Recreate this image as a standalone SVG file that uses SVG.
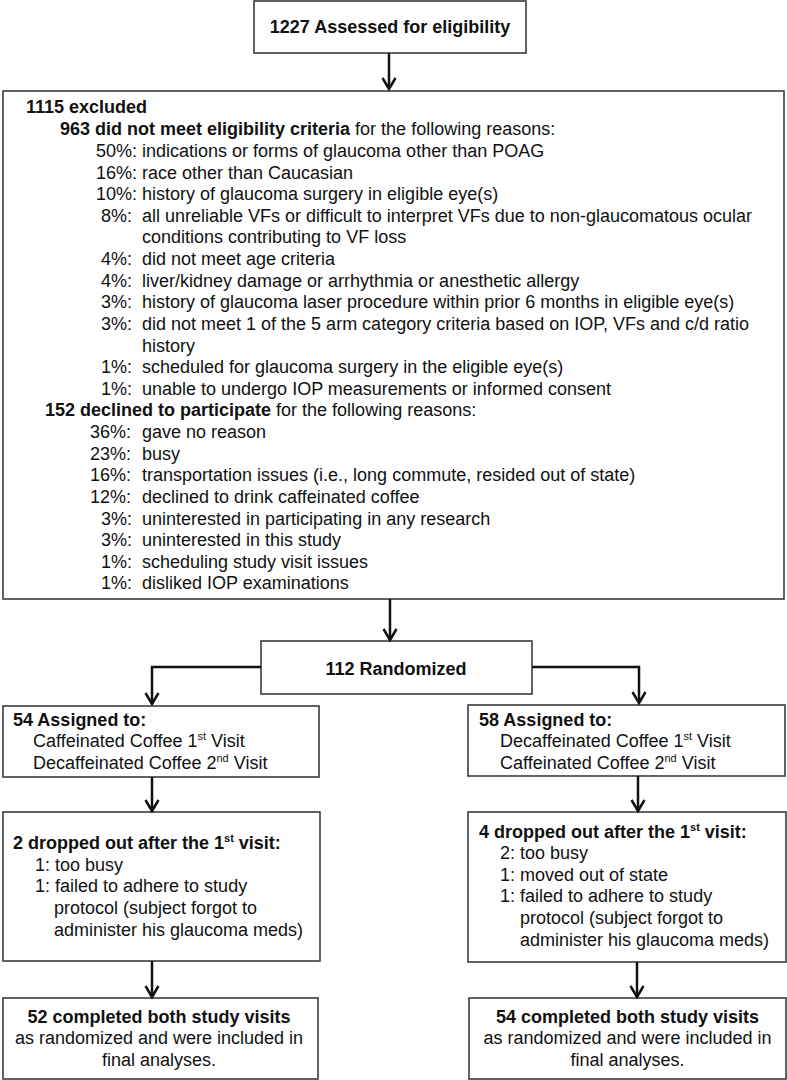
<svg xmlns="http://www.w3.org/2000/svg" width="787" height="1080" viewBox="0 0 787 1080">
<defs>
<style>
.box{fill:#fff;stroke:#3c3c3c;stroke-width:1.6}
text{font-family:"Liberation Sans",Arial,Helvetica,sans-serif;font-size:18px;fill:#111}
.b{font-weight:bold}
.c{text-anchor:middle}
.sup{font-size:11px}
.conn{fill:none;stroke:#111;stroke-width:2.5}
</style>
<marker id="arr" viewBox="-13 -9 15 18" refX="0" refY="0" markerWidth="15" markerHeight="18" markerUnits="userSpaceOnUse" orient="auto" overflow="visible">
<path d="M-11,-6.5 L0,0 L-11,6.5" fill="none" stroke="#111" stroke-width="2.5"/>
</marker>
</defs>
<rect width="787" height="1080" fill="#fff"/>

<g id="assessed">
<rect class="box" x="254" y="1" width="272" height="52"/>
<text class="b c" x="390" y="33">1227 Assessed for eligibility</text>
</g>

<g id="excluded">
<rect class="box" x="3" y="91" width="781" height="508"/>
<text class="b" x="26" y="113">1115 excluded</text>
<text x="60" y="135"><tspan class="b">963 did not meet eligibility criteria</tspan> for the following reasons:</text>
<text x="96" y="157">50%:</text><text x="142" y="157">indications or forms of glaucoma other than POAG</text>
<text x="96" y="179">16%:</text><text x="142" y="179">race other than Caucasian</text>
<text x="96" y="200">10%:</text><text x="142" y="200">history of glaucoma surgery in eligible eye(s)</text>
<text x="101" y="222">8%:</text><text x="142" y="222">all unreliable VFs or difficult to interpret VFs due to non-glaucomatous ocular</text>
<text x="142" y="243">conditions contributing to VF loss</text>
<text x="101" y="265">4%:</text><text x="142" y="265">did not meet age criteria</text>
<text x="101" y="287">4%:</text><text x="142" y="287">liver/kidney damage or arrhythmia or anesthetic allergy</text>
<text x="101" y="308">3%:</text><text x="142" y="308">history of glaucoma laser procedure within prior 6 months in eligible eye(s)</text>
<text x="101" y="330">3%:</text><text x="142" y="330">did not meet 1 of the 5 arm category criteria based on IOP, VFs and c/d ratio</text>
<text x="142" y="352">history</text>
<text x="101" y="373">1%:</text><text x="142" y="373">scheduled for glaucoma surgery in the eligible eye(s)</text>
<text x="101" y="395">1%:</text><text x="142" y="395">unable to undergo IOP measurements or informed consent</text>
<text x="45" y="416"><tspan class="b">152 declined to participate</tspan> for the following reasons:</text>
<text x="90" y="438">36%:</text><text x="142" y="438">gave no reason</text>
<text x="90" y="460">23%:</text><text x="142" y="460">busy</text>
<text x="90" y="481">16%:</text><text x="142" y="481">transportation issues (i.e., long commute, resided out of state)</text>
<text x="90" y="503">12%:</text><text x="142" y="503">declined to drink caffeinated coffee</text>
<text x="101" y="525">3%:</text><text x="142" y="525">uninterested in participating in any research</text>
<text x="101" y="546">3%:</text><text x="142" y="546">uninterested in this study</text>
<text x="101" y="568">1%:</text><text x="142" y="568">scheduling study visit issues</text>
<text x="101" y="589">1%:</text><text x="142" y="589">disliked IOP examinations</text>
</g>

<g id="randomized">
<rect class="box" x="261" y="641" width="271" height="53"/>
<text class="b c" x="396" y="675">112 Randomized</text>
</g>

<g id="assigned-left">
<rect class="box" x="3" y="706" width="316" height="71"/>
<text class="b" x="13" y="726">54 Assigned to:</text>
<text x="33" y="747">Caffeinated Coffee 1<tspan class="sup" dy="-7">st</tspan><tspan dy="7"> Visit</tspan></text>
<text x="33" y="769">Decaffeinated Coffee 2<tspan class="sup" dy="-7">nd</tspan><tspan dy="7"> Visit</tspan></text>
</g>

<g id="assigned-right">
<rect class="box" x="468" y="705" width="317" height="71"/>
<text class="b" x="479" y="726">58 Assigned to:</text>
<text x="500" y="747">Decaffeinated Coffee 1<tspan class="sup" dy="-7">st</tspan><tspan dy="7"> Visit</tspan></text>
<text x="500" y="769">Caffeinated Coffee 2<tspan class="sup" dy="-7">nd</tspan><tspan dy="7"> Visit</tspan></text>
</g>

<g id="dropped-left">
<rect class="box" x="3" y="812" width="317" height="149"/>
<text class="b" x="13" y="849">2 dropped out after the 1<tspan class="sup" dy="-7">st</tspan><tspan dy="7"> visit:</tspan></text>
<text x="35" y="871">1: too busy</text>
<text x="35" y="892">1: failed to adhere to study</text>
<text x="54" y="914">protocol (subject forgot to</text>
<text x="54" y="936">administer his glaucoma meds)</text>
</g>

<g id="dropped-right">
<rect class="box" x="468" y="812" width="318" height="150"/>
<text class="b" x="479" y="838">4 dropped out after the 1<tspan class="sup" dy="-7">st</tspan><tspan dy="7"> visit:</tspan></text>
<text x="500" y="859">2: too busy</text>
<text x="500" y="881">1: moved out of state</text>
<text x="500" y="902">1: failed to adhere to study</text>
<text x="520" y="924">protocol (subject forgot to</text>
<text x="520" y="946">administer his glaucoma meds)</text>
</g>

<g id="completed-left">
<rect class="box" x="3" y="998" width="315" height="81"/>
<text class="b c" x="159" y="1023">52 completed both study visits</text>
<text class="c" x="159" y="1044">as randomized and were included in</text>
<text class="c" x="159" y="1066">final analyses.</text>
</g>

<g id="completed-right">
<rect class="box" x="469" y="998" width="317" height="81"/>
<text class="b c" x="627.5" y="1023">54 completed both study visits</text>
<text class="c" x="627.5" y="1044">as randomized and were included in</text>
<text class="c" x="627.5" y="1066">final analyses.</text>
</g>

<g id="connectors">
<path class="conn" d="M389,53 V89" marker-end="url(#arr)"/>
<path class="conn" d="M390,599 V640" marker-end="url(#arr)"/>
<path class="conn" d="M261,667 H152 V704" marker-end="url(#arr)"/>
<path class="conn" d="M532,667 H639 V703" marker-end="url(#arr)"/>
<path class="conn" d="M152,777 V811" marker-end="url(#arr)"/>
<path class="conn" d="M638,776 V811" marker-end="url(#arr)"/>
<path class="conn" d="M152,961 V997" marker-end="url(#arr)"/>
<path class="conn" d="M637,962 V997" marker-end="url(#arr)"/>
</g>
</svg>
